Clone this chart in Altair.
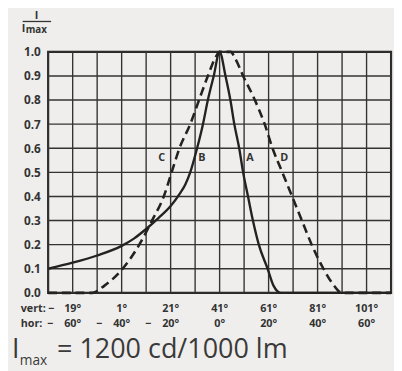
import altair as alt
import pandas as pd

# ---- data ----
solid_x = [-70, -60, -50, -40, -35, -30, -25, -20, -16.4, -14, -12, -9.2, -6.8, -4.8, -2.4, 0,
           2.4, 4.4, 6, 8, 9.6, 11.6, 13.6, 16, 19.6, 22, 25, 70]
solid_y = [0.10, 0.125, 0.155, 0.195, 0.225, 0.265, 0.31, 0.36, 0.41, 0.45, 0.50, 0.60, 0.70, 0.80, 0.90, 1.00,
           0.90, 0.80, 0.70, 0.60, 0.50, 0.40, 0.30, 0.20, 0.10, 0.03, 0.0, 0.0]

dashed_x = [-70, -52, -47, -39.6, -32.8, -27.6, -22.8, -19.6, -16.4, -12, -8.4, -4.8, -1.5, 0,
            4.5, 6.5, 9.6, 14.4, 18.4, 21.6, 25.6, 29.6, 33.6, 37.6, 42.4, 46, 50, 70]
dashed_y = [0.0, 0.0, 0.03, 0.10, 0.20, 0.30, 0.40, 0.50, 0.60, 0.70, 0.80, 0.90, 0.98, 1.00,
            1.00, 0.97, 0.90, 0.80, 0.70, 0.60, 0.50, 0.40, 0.30, 0.20, 0.10, 0.04, 0.0, 0.0]

curve_labels = ["C", "B", "A", "D"]
curve_label_x = [-23.6, -7.2, 12.4, 26.4]
curve_label_y = [0.56, 0.56, 0.56, 0.56]

tick_hor = [-60, -40, -20, 0, 20, 40, 60]
vert_labels = ["19°", "1°", "21°", "41°", "61°", "81°", "101°"]
vert_negative = [True, False, False, False, False, False, False]
hor_labels = ["60°", "40°", "20°", "0°", "20°", "40°", "60°"]
hor_negative = [True, True, True, False, False, False, False]

y_ticks = [0.0, 0.1, 0.2, 0.3, 0.4, 0.5, 0.6, 0.7, 0.8, 0.9, 1.0]
x_grid = list(range(-70, 71, 10))

FONT = "Open Sans"
INK = "#222222"
TXT = "#333333"
GRID = "#333333"

curves = pd.DataFrame({"x": solid_x + dashed_x,
                       "y": solid_y + dashed_y,
                       "curve": ["solid"] * len(solid_x) + ["dashed"] * len(dashed_x)})
labels_df = pd.DataFrame({"x": curve_label_x, "y": curve_label_y, "t": curve_labels})
ticks_df = pd.DataFrame({"x": tick_hor, "vert": vert_labels, "vneg": vert_negative,
                         "hor": hor_labels, "hneg": hor_negative})

xs = alt.Scale(domain=[-70, 70], nice=False, zero=False)
ys = alt.Scale(domain=[0, 1], nice=False, zero=False)

y_axis = alt.Axis(values=y_ticks, format=".1f", ticks=False, domain=False, title=None,
                  grid=False, labelFont=FONT, labelFontSize=12, labelFontWeight="bold",
                  labelColor=TXT, labelPadding=8)

# grid
vgrid = alt.Chart(pd.DataFrame({"x": x_grid})).mark_rule(color=GRID, strokeWidth=1.4).encode(
    x=alt.X("x:Q", scale=xs, axis=None))
hgrid = alt.Chart(pd.DataFrame({"y": y_ticks})).mark_rule(color=GRID, strokeWidth=1.4).encode(
    y=alt.Y("y:Q", scale=ys, axis=y_axis))

base = alt.Chart(curves)

solid = base.transform_filter(alt.datum.curve == "solid").mark_line(
    color=INK, strokeWidth=2.4, interpolate="monotone"
).encode(x=alt.X("x:Q", scale=xs, axis=None), y=alt.Y("y:Q", scale=ys, axis=y_axis))

dashed = base.transform_filter(alt.datum.curve == "dashed").mark_line(
    color=INK, strokeWidth=2.6, strokeDash=[9, 5], interpolate="monotone"
).encode(x=alt.X("x:Q", scale=xs, axis=None), y=alt.Y("y:Q", scale=ys, axis=y_axis))

letters = alt.Chart(labels_df).mark_text(
    font=FONT, fontSize=11, fontWeight="bold", color=TXT
).encode(x=alt.X("x:Q", scale=xs, axis=None), y=alt.Y("y:Q", scale=ys, axis=y_axis), text="t:N")

tick_base = alt.Chart(ticks_df)
common = dict(font=FONT, fontSize=11, fontWeight="bold", color=TXT, baseline="middle")
vert_txt = tick_base.mark_text(**common).encode(
    x=alt.X("x:Q", scale=xs, axis=None), y=alt.value(263), text="vert:N")
vert_minus = tick_base.transform_filter(alt.datum.vneg).mark_text(dx=-22, text="−", **common).encode(
    x=alt.X("x:Q", scale=xs, axis=None), y=alt.value(263))
hor_txt = tick_base.mark_text(**common).encode(
    x=alt.X("x:Q", scale=xs, axis=None), y=alt.value(278), text="hor:N")
hor_minus = tick_base.transform_filter(alt.datum.hneg).mark_text(dx=-23, text="−", **common).encode(
    x=alt.X("x:Q", scale=xs, axis=None), y=alt.value(278))

row_names = alt.Chart(pd.DataFrame({"t": ["vert:", "hor:"], "yy": [263, 278]})).mark_text(
    align="left", **common
).encode(x=alt.value(-28), y=alt.Y("yy:Q", scale=None), text="t:N")

# y-axis title: I / I_max
frac_num = alt.Chart(pd.DataFrame({"t": ["I"]})).mark_text(
    font=FONT, fontSize=11, fontWeight="bold", color=TXT, baseline="middle"
).encode(x=alt.value(-12), y=alt.value(-37), text="t:N")
frac_bar = alt.Chart(pd.DataFrame({"t": ["bar"]})).mark_rule(color=TXT, strokeWidth=1.3).encode(
    x=alt.value(-26), x2=alt.value(3), y=alt.value(-31))
frac_I = alt.Chart(pd.DataFrame({"t": ["I"]})).mark_text(
    font=FONT, fontSize=11, fontWeight="bold", color=TXT, align="left", baseline="alphabetic"
).encode(x=alt.value(-27), y=alt.value(-20), text="t:N")
frac_max = alt.Chart(pd.DataFrame({"t": ["max"]})).mark_text(
    font=FONT, fontSize=10, fontWeight="bold", color=TXT, align="left", baseline="alphabetic"
).encode(x=alt.value(-23), y=alt.value(-19), text="t:N")

# bottom note: I_max = 1200 cd/1000 lm
note_I = alt.Chart(pd.DataFrame({"t": ["I"]})).mark_text(
    font=FONT, fontSize=27, color="#3a3a3a", align="left", baseline="alphabetic"
).encode(x=alt.value(-37), y=alt.value(313), text="t:N")
note_max = alt.Chart(pd.DataFrame({"t": ["max"]})).mark_text(
    font=FONT, fontSize=14, color="#3a3a3a", align="left", baseline="alphabetic"
).encode(x=alt.value(-29), y=alt.value(320), text="t:N")
note_rest = alt.Chart(pd.DataFrame({"t": ["= 1200 cd/1000 lm"]})).mark_text(
    font=FONT, fontSize=27.5, color="#3a3a3a", align="left", baseline="alphabetic"
).encode(x=alt.value(9), y=alt.value(313), text="t:N")

chart = alt.layer(
    vgrid, hgrid, solid, dashed, letters, vert_txt, vert_minus, hor_txt, hor_minus, row_names,
    frac_num, frac_bar, frac_I, frac_max, note_I, note_max, note_rest
).properties(
    width=350, height=246,
    autosize=alt.AutoSizeParams(type="none"),
    padding={"left": 41, "top": 41, "right": 3, "bottom": 76},
    background="#efeeec"
).configure_view(stroke=INK, strokeWidth=2.2)

chart.save("out.html", embed_options={"renderer": "svg", "actions": False})
